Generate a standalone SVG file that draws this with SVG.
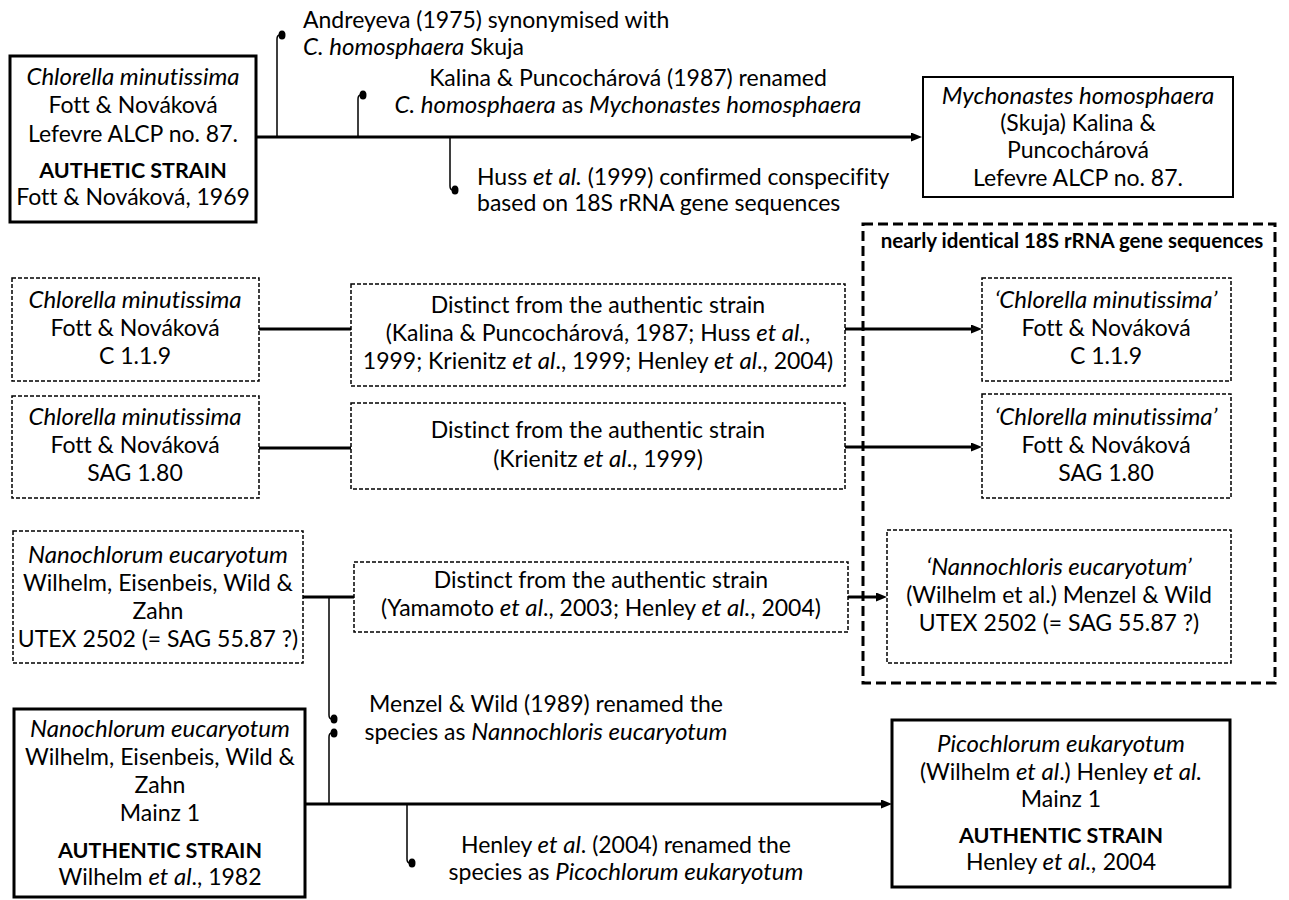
<svg xmlns="http://www.w3.org/2000/svg" width="1289" height="900" viewBox="0 0 1289 900">
<style>
text{font-family:Lato,"Open Sans","Liberation Sans",sans-serif;font-size:23px;fill:#000;font-variant-ligatures:none}
.c{text-anchor:middle}
.i{font-style:italic;font-size:24px}
.b{font-weight:bold;font-size:21.5px}
.hd{font-weight:bold;font-size:20.5px}
.solid{fill:#fff;stroke:#000;stroke-width:3}
.solid2{fill:#fff;stroke:#000;stroke-width:2}
.dash{fill:#fff;stroke:#000;stroke-width:1.5;stroke-dasharray:4 2}
.big{fill:none;stroke:#000;stroke-width:3;stroke-dasharray:10 5}
.main{stroke:#000;stroke-width:3;fill:none}
.thin{stroke:#000;stroke-width:1.5;fill:none}
.dot{fill:#000}
</style>
<defs>
<marker id="arr" markerWidth="11" markerHeight="9" refX="4" refY="4.5" orient="auto" markerUnits="userSpaceOnUse"><path d="M0,0 L11,4.5 L0,9 z" fill="#000"/></marker>
</defs>

<g id="group-identical">
<rect class="big" x="863" y="224" width="412" height="459"/>
<text class="hd c" x="1072" y="248">nearly identical 18S rRNA gene sequences</text>
</g>

<g id="connectors">
<path class="main" d="M256,137 H915" marker-end="url(#arr)"/>
<path class="thin" d="M277,137 V39 Q277,35 280,35"/>
<ellipse class="dot" cx="282" cy="35" rx="3.5" ry="4.5"/>
<path class="thin" d="M358,137 V99 Q358,95 361,95"/>
<ellipse class="dot" cx="363" cy="95" rx="3.5" ry="4.5"/>
<path class="thin" d="M450,137 V186 Q450,190 453,190"/>
<ellipse class="dot" cx="455" cy="190" rx="3.5" ry="4.5"/>

<path class="main" d="M259,329 H351"/>
<path class="main" d="M845,329 H975" marker-end="url(#arr)"/>
<path class="main" d="M259,448 H351"/>
<path class="main" d="M845,447 H975" marker-end="url(#arr)"/>
<path class="main" d="M303,597 H354"/>
<path class="main" d="M848,597 H880" marker-end="url(#arr)"/>

<path class="thin" d="M329,597 V715 Q329,719 332,719"/>
<ellipse class="dot" cx="334" cy="719" rx="3.5" ry="4.5"/>
<path class="thin" d="M329,804 V737 Q329,733 332,733"/>
<ellipse class="dot" cx="334" cy="733" rx="3.5" ry="4.5"/>

<path class="main" d="M305,804 H885" marker-end="url(#arr)"/>
<path class="thin" d="M407,804 V859 Q407,863 410,863"/>
<ellipse class="dot" cx="412" cy="863" rx="3.5" ry="4.5"/>
</g>

<g id="label-andreyeva">
<text x="303" y="28">Andreyeva (1975) synonymised with</text>
<text x="303" y="55"><tspan class="i">C. homosphaera</tspan> Skuja</text>
</g>
<g id="label-kalina">
<text class="c" x="628" y="86">Kalina &amp; Puncochárová (1987) renamed</text>
<text class="c" x="628" y="113"><tspan class="i">C. homosphaera</tspan> as <tspan class="i">Mychonastes homosphaera</tspan></text>
</g>
<g id="label-huss">
<text x="477" y="185">Huss <tspan class="i">et al.</tspan> (1999) confirmed conspecifity</text>
<text x="477" y="211">based on 18S rRNA gene sequences</text>
</g>
<g id="label-menzel">
<text class="c" x="546" y="712">Menzel &amp; Wild (1989) renamed the</text>
<text class="c" x="546" y="740">species as <tspan class="i">Nannochloris eucaryotum</tspan></text>
</g>
<g id="label-henley">
<text class="c" x="626" y="853">Henley <tspan class="i">et al</tspan>. (2004) renamed the</text>
<text class="c" x="626" y="880">species as <tspan class="i">Picochlorum eukaryotum</tspan></text>
</g>

<g id="node-cm-authentic">
<rect class="solid" x="10" y="56" width="246" height="166"/>
<text class="c i" x="133" y="85">Chlorella minutissima</text>
<text class="c" x="133" y="113">Fott &amp; Nováková</text>
<text class="c" x="133" y="142">Lefevre ALCP no. 87.</text>
<text class="c b" x="133" y="178">AUTHETIC STRAIN</text>
<text class="c" x="133" y="205">Fott &amp; Nováková, 1969</text>
</g>

<g id="node-mychonastes">
<rect class="solid2" x="923" y="77" width="310" height="120"/>
<text class="c i" x="1078" y="104">Mychonastes homosphaera</text>
<text class="c" x="1078" y="131">(Skuja) Kalina &amp;</text>
<text class="c" x="1078" y="158">Puncochárová</text>
<text class="c" x="1078" y="186">Lefevre ALCP no. 87.</text>
</g>

<g id="node-cm-c119">
<rect class="dash" x="12" y="278" width="247" height="103"/>
<text class="c i" x="135" y="308">Chlorella minutissima</text>
<text class="c" x="135" y="336">Fott &amp; Nováková</text>
<text class="c" x="135" y="364">C 1.1.9</text>
</g>

<g id="node-cm-sag">
<rect class="dash" x="12" y="396" width="247" height="102"/>
<text class="c i" x="135" y="425">Chlorella minutissima</text>
<text class="c" x="135" y="453">Fott &amp; Nováková</text>
<text class="c" x="135" y="481">SAG 1.80</text>
</g>

<g id="node-distinct1">
<rect class="dash" x="351" y="284" width="494" height="102"/>
<text class="c" x="598" y="313">Distinct from the authentic strain</text>
<text class="c" x="598" y="341">(Kalina &amp; Puncochárová, 1987; Huss <tspan class="i">et al.</tspan>,</text>
<text class="c" x="598" y="369">1999; Krienitz <tspan class="i">et al</tspan>., 1999; Henley <tspan class="i">et al</tspan>., 2004)</text>
</g>

<g id="node-distinct2">
<rect class="dash" x="351" y="403" width="494" height="86"/>
<text class="c" x="598" y="438">Distinct from the authentic strain</text>
<text class="c" x="598" y="467">(Krienitz <tspan class="i">et al</tspan>., 1999)</text>
</g>

<g id="node-distinct3">
<rect class="dash" x="354" y="562" width="494" height="70"/>
<text class="c" x="601" y="588">Distinct from the authentic strain</text>
<text class="c" x="601" y="616">(Yamamoto <tspan class="i">et al</tspan>., 2003; Henley <tspan class="i">et al.</tspan>, 2004)</text>
</g>

<g id="node-q-c119">
<rect class="dash" x="982" y="278" width="249" height="103"/>
<text class="c i" x="1106" y="308">‘Chlorella minutissima’</text>
<text class="c" x="1106" y="336">Fott &amp; Nováková</text>
<text class="c" x="1106" y="364">C 1.1.9</text>
</g>

<g id="node-q-sag">
<rect class="dash" x="982" y="394" width="249" height="104"/>
<text class="c i" x="1106" y="425">‘Chlorella minutissima’</text>
<text class="c" x="1106" y="453">Fott &amp; Nováková</text>
<text class="c" x="1106" y="481">SAG 1.80</text>
</g>

<g id="node-q-nanno">
<rect class="dash" x="887" y="530" width="344" height="133"/>
<text class="c i" x="1059" y="575">‘Nannochloris eucaryotum’</text>
<text class="c" x="1059" y="603">(Wilhelm et al.) Menzel &amp; Wild</text>
<text class="c" x="1059" y="631">UTEX 2502 (= SAG 55.87 ?)</text>
</g>

<g id="node-nano-utex">
<rect class="dash" x="13" y="531" width="290" height="132"/>
<text class="c i" x="158" y="563">Nanochlorum eucaryotum</text>
<text class="c" x="158" y="591">Wilhelm, Eisenbeis, Wild &amp;</text>
<text class="c" x="158" y="619">Zahn</text>
<text class="c" x="158" y="647">UTEX 2502 (= SAG 55.87 ?)</text>
</g>

<g id="node-nano-authentic">
<rect class="solid" x="14" y="709" width="291" height="188"/>
<text class="c i" x="160" y="737">Nanochlorum eucaryotum</text>
<text class="c" x="160" y="765">Wilhelm, Eisenbeis, Wild &amp;</text>
<text class="c" x="160" y="793">Zahn</text>
<text class="c" x="160" y="821">Mainz 1</text>
<text class="c b" x="160" y="858">AUTHENTIC STRAIN</text>
<text class="c" x="160" y="885">Wilhelm <tspan class="i">et al</tspan>., 1982</text>
</g>

<g id="node-picochlorum">
<rect class="solid" x="892" y="720" width="338" height="167"/>
<text class="c i" x="1061" y="752">Picochlorum eukaryotum</text>
<text class="c" x="1061" y="780">(Wilhelm <tspan class="i">et al</tspan>.) Henley <tspan class="i">et al.</tspan></text>
<text class="c" x="1061" y="807">Mainz 1</text>
<text class="c b" x="1061" y="843">AUTHENTIC STRAIN</text>
<text class="c" x="1061" y="870">Henley <tspan class="i">et al.,</tspan> 2004</text>
</g>
</svg>
